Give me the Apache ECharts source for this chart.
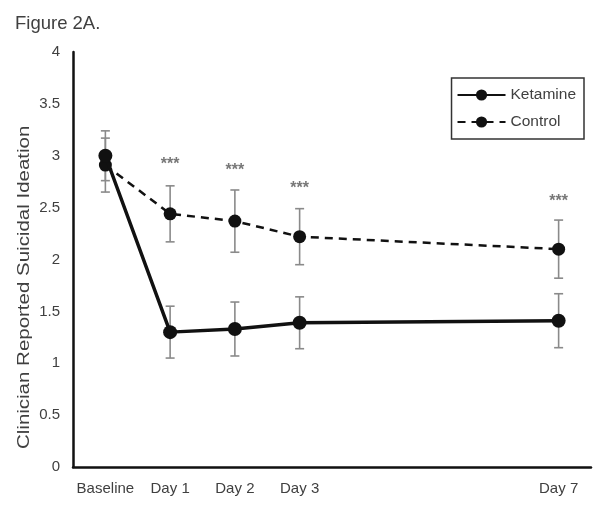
<!DOCTYPE html>
<html><head><meta charset="utf-8">
<script src="https://cdn.jsdelivr.net/npm/echarts@6/dist/echarts.min.js"></script>
<style>html,body{margin:0;padding:0;background:#fff}#c{width:604px;height:511px}</style>
</head><body><div id="c"></div>
<script>
const dayNames = ['Baseline', 'Day 1', 'Day 2', 'Day 3', 'Day 7'];
const dayX = [0, 1, 2, 3, 7];
const ketamine = [3.0, 1.30, 1.33, 1.39, 1.41];
const ketamineErr = [0.24, 0.25, 0.26, 0.25, 0.26];
const control = [2.91, 2.44, 2.37, 2.22, 2.10];
const controlErr = [0.26, 0.27, 0.30, 0.27, 0.28];
const starY = [null, 2.91, 2.86, 2.68, 2.56];
const yTicks = [0, 0.5, 1, 1.5, 2, 2.5, 3, 3.5, 4];

const font = 'Liberation Sans, Arial, sans-serif';
const txt = '#404040';

function pairs(vals) { return dayX.map((x, i) => [x, vals[i]]); }
function errs(vals, e) { return dayX.map((x, i) => [x, vals[i] - e[i], vals[i] + e[i]]); }

function errRender(params, api) {
  const x = api.value(0);
  const lo = api.coord([x, api.value(1)]);
  const hi = api.coord([x, api.value(2)]);
  const w = 4.5;
  const style = { stroke: '#8a8a8a', lineWidth: 1.6 };
  return {
    type: 'group',
    children: [
      { type: 'line', shape: { x1: hi[0], y1: hi[1], x2: lo[0], y2: lo[1] }, style },
      { type: 'line', shape: { x1: hi[0] - w, y1: hi[1], x2: hi[0] + w, y2: hi[1] }, style },
      { type: 'line', shape: { x1: lo[0] - w, y1: lo[1], x2: lo[0] + w, y2: lo[1] }, style }
    ]
  };
}

const labelMap = {};
dayX.forEach((x, i) => labelMap[x] = dayNames[i]);

const chart = echarts.init(document.getElementById('c'));
chart.setOption({
  animation: false,
  textStyle: { fontFamily: font },
  grid: { left: 73, right: 13, top: 52, bottom: 44 },
  title: { text: 'Figure 2A.', left: 10, top: 9, textStyle: { fontFamily: font, fontSize: 18.5, fontWeight: 'normal', color: txt } },
  graphic: [{
    type: 'text',
    style: { text: 'Clinician Reported Suicidal Ideation', font: '16px ' + font, fill: txt },
    rotation: Math.PI / 2, scaleX: 1.28, x: 17, y: 449
  }],
  legend: {
    orient: 'vertical', right: 20, top: 78,
    data: ['Ketamine', 'Control'],
    borderColor: '#333', borderWidth: 1.5, borderRadius: 0,
    padding: [9, 8, 9, 5], itemGap: 11, itemWidth: 48, itemHeight: 14,
    textStyle: { fontFamily: font, fontSize: 15.5, color: txt }
  },
  xAxis: {
    type: 'value', min: -0.5, max: 7.5, interval: 0.5,
    axisLine: { onZero: false, lineStyle: { color: '#111', width: 2.5 } },
    axisTick: { show: false }, splitLine: { show: false },
    axisLabel: { margin: 14, fontSize: 15, color: txt, fontFamily: font,
      formatter: v => labelMap[v] !== undefined ? labelMap[v] : '' }
  },
  yAxis: {
    type: 'value', min: yTicks[0], max: yTicks[yTicks.length - 1], interval: 0.5,
    axisLine: { show: true, onZero: false, lineStyle: { color: '#111', width: 2.5 } },
    axisTick: { show: false }, splitLine: { show: false },
    axisLabel: { margin: 13, fontSize: 15, color: txt, fontFamily: font }
  },
  series: [
    { name: 'ketErr', type: 'custom', renderItem: errRender, data: errs(ketamine, ketamineErr), z: 1, silent: true },
    { name: 'ctlErr', type: 'custom', renderItem: errRender, data: errs(control, controlErr), z: 1, silent: true },
    { name: 'Control', type: 'line', data: pairs(control), symbol: 'circle', symbolSize: 13,
      lineStyle: { color: '#111', width: 2.5, type: [8, 6] }, itemStyle: { color: '#111' }, z: 3 },
    { name: 'Ketamine', type: 'line', data: pairs(ketamine), symbol: 'circle', symbolSize: 14,
      lineStyle: { color: '#111', width: 3.5 }, itemStyle: { color: '#111' }, z: 4 },
    { name: 'stars', type: 'scatter', symbolSize: 0, silent: true,
      data: dayX.map((x, i) => starY[i] == null ? null : [x, starY[i]]).filter(d => d),
      label: { show: true, formatter: '***', position: 'inside', fontSize: 16, fontWeight: 'bold', color: '#555', fontFamily: font } }
  ]
});
</script></body></html>
